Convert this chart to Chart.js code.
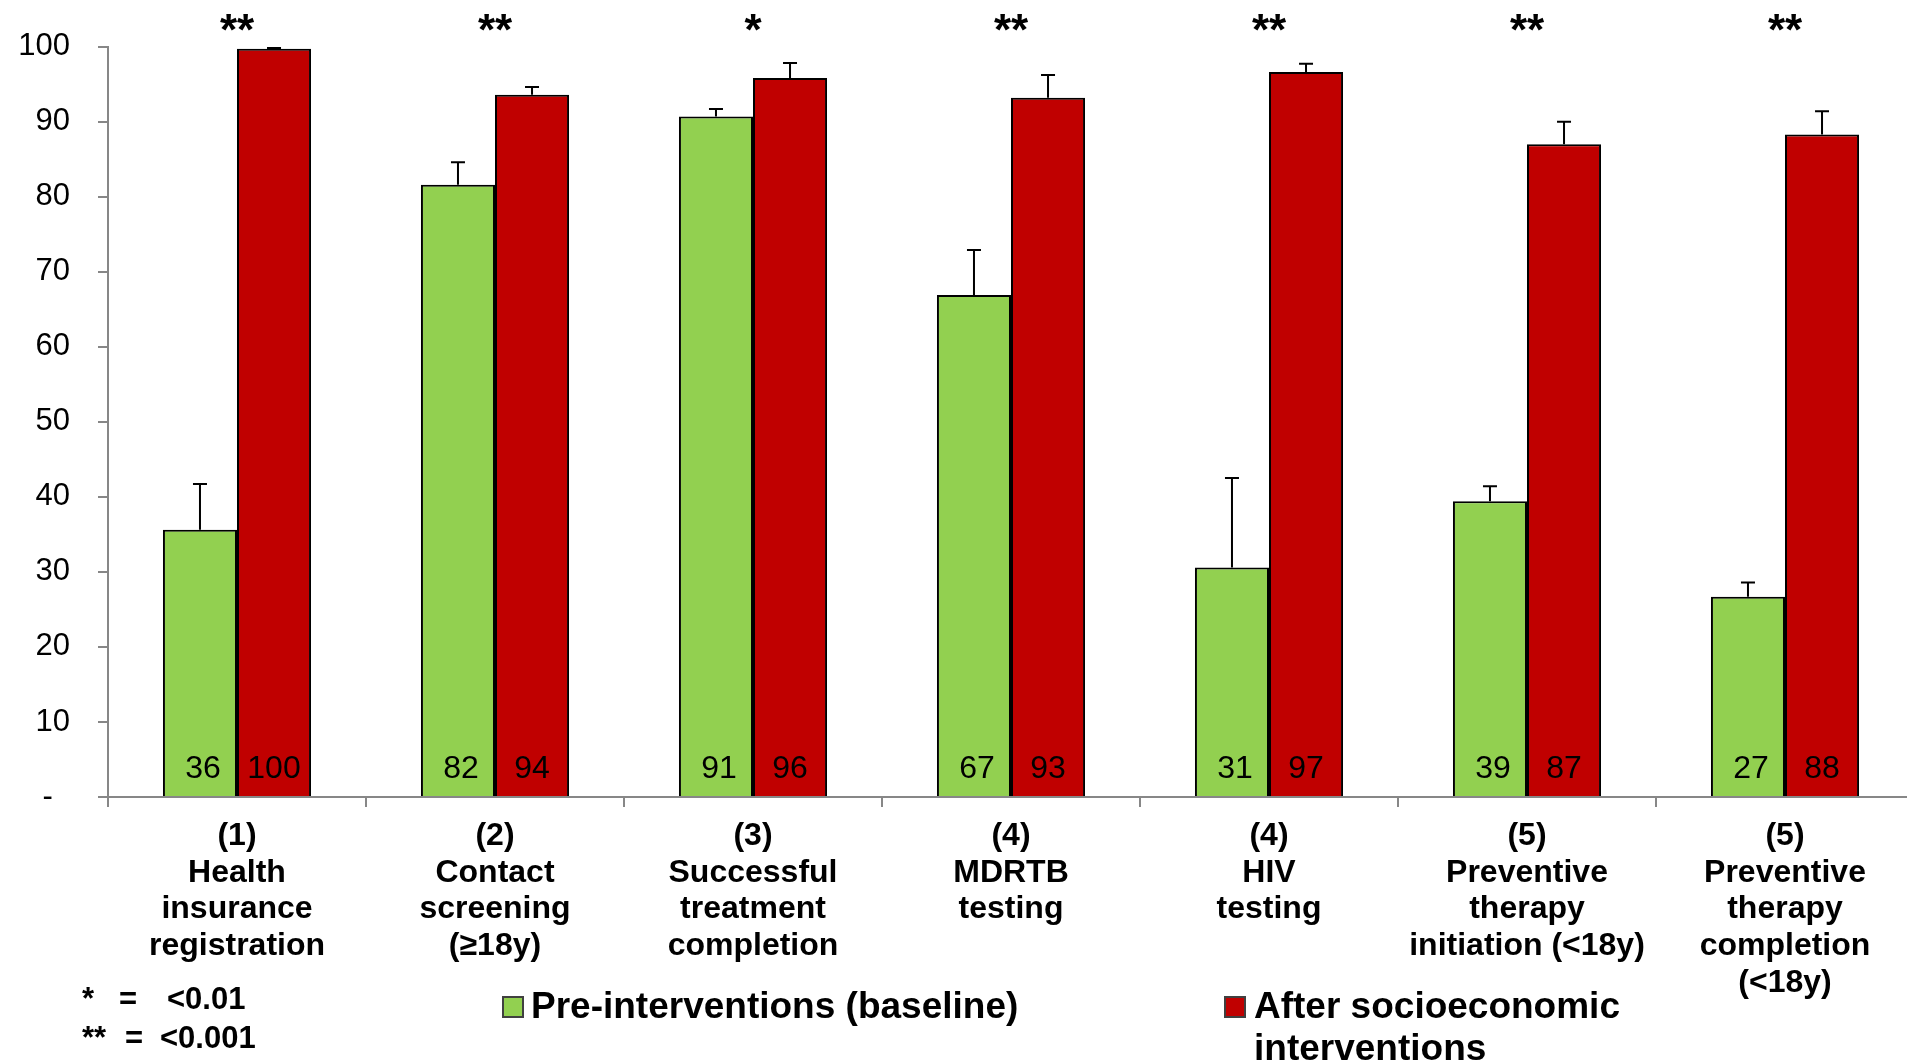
<!DOCTYPE html>
<html>
<head>
<meta charset="utf-8">
<script src="https://cdn.jsdelivr.net/npm/chart.js@4.4.1/dist/chart.umd.min.js"></script>
<style>
  html, body { margin: 0; padding: 0; background: #fff; overflow: hidden; }
  #wrap { width: 1907px; height: 1063px; position: relative; overflow: hidden; }
  #c { position: absolute; left: 0; top: 0; }
</style>
</head>
<body>
<div id="wrap"><canvas id="c" width="1914" height="1063"></canvas></div>
<script>
const categories = [
  ['(1)', 'Health', 'insurance', 'registration'],
  ['(2)', 'Contact', 'screening', '(≥18y)'],
  ['(3)', 'Successful', 'treatment', 'completion'],
  ['(4)', 'MDRTB', 'testing'],
  ['(4)', 'HIV', 'testing'],
  ['(5)', 'Preventive', 'therapy', 'initiation (<18y)'],
  ['(5)', 'Preventive', 'therapy', 'completion', '(<18y)']
];
const seriesNames = ['Pre-interventions (baseline)', ['After socioeconomic', 'interventions']];
const preValues = [35.6, 81.6, 90.7, 66.9, 30.6, 39.4, 26.7];
const preErrors = [6.1, 3.0, 1.0, 6.0, 11.9, 2.0, 1.9];
const postValues = [99.7, 93.6, 95.8, 93.2, 96.6, 87.0, 88.3];
const postErrors = [0.1, 1.0, 2.0, 3.0, 1.1, 3.0, 3.1];
const preLabels = ['36', '82', '91', '67', '31', '39', '27'];
const postLabels = ['100', '94', '96', '93', '97', '87', '88'];
const significance = ['**', '**', '*', '**', '**', '**', '**'];
const footnotes = [['*', '=', '<0.01'], ['**', '=', '<0.001']];

const FONT = "'Liberation Sans', Arial, Helvetica, sans-serif";
const GREEN = '#92D050';
const RED = '#C00000';
const AXIS = '#878787';

const errorBars = [preErrors, postErrors];
const valueLabels = [preLabels, postLabels];

const overlayPlugin = {
  id: 'overlay',
  afterDatasetsDraw(chart) {
    const ctx = chart.ctx;
    const y = chart.scales.y;
    ctx.save();
    chart.data.datasets.forEach((ds, di) => {
      const meta = chart.getDatasetMeta(di);
      meta.data.forEach((el, i) => {
        const top = y.getPixelForValue(ds.data[i] + errorBars[di][i]);
        const base = y.getPixelForValue(ds.data[i]);
        ctx.strokeStyle = '#000';
        ctx.lineWidth = 2;
        ctx.beginPath();
        ctx.moveTo(el.x, base);
        ctx.lineTo(el.x, top);
        ctx.moveTo(el.x - 7, top);
        ctx.lineTo(el.x + 7, top);
        ctx.stroke();
      });
    });
    ctx.fillStyle = '#000';
    ctx.font = '32px ' + FONT;
    ctx.textAlign = 'center';
    ctx.textBaseline = 'alphabetic';
    const base0 = y.getPixelForValue(0);
    chart.data.datasets.forEach((ds, di) => {
      const meta = chart.getDatasetMeta(di);
      meta.data.forEach((el, i) => {
        ctx.fillText(valueLabels[di][i], el.x + (di === 0 ? 3 : 0), base0 - 19);
      });
    });
    ctx.restore();
  },
  afterDraw(chart) {
    const ctx = chart.ctx;
    const x = chart.scales.x;
    ctx.save();
    ctx.fillStyle = '#000';
    ctx.font = 'bold 44px ' + FONT;
    ctx.textAlign = 'center';
    ctx.textBaseline = 'alphabetic';
    significance.forEach((s, i) => {
      ctx.fillText(s, x.getPixelForValue(i), 45);
    });
    ctx.font = 'bold 31px ' + FONT;
    ctx.textAlign = 'left';
    ctx.textBaseline = 'middle';
    const fx = [[82, 119, 167], [82, 125, 160]];
    const fy = [1000, 1039];
    footnotes.forEach((row, r) => {
      row.forEach((t, k) => ctx.fillText(t, fx[r][k], fy[r]));
    });
    const colors = [GREEN, RED];
    const sq = [[503, 997], [1225, 997]];
    const tx = [531, 1254];
    ctx.font = 'bold 37px ' + FONT;
    ctx.textBaseline = 'alphabetic';
    seriesNames.forEach((name, i) => {
      ctx.fillStyle = colors[i];
      ctx.fillRect(sq[i][0], sq[i][1], 20, 20);
      ctx.strokeStyle = '#404040';
      ctx.lineWidth = 2;
      ctx.strokeRect(sq[i][0], sq[i][1], 20, 20);
      ctx.fillStyle = '#000';
      const lines = Array.isArray(name) ? name : [name];
      lines.forEach((ln, k) => ctx.fillText(ln, tx[i], 1018 + k * 42));
    });
    ctx.restore();
  }
};

new Chart(document.getElementById('c'), {
  type: 'bar',
  data: {
    labels: categories,
    datasets: [
      {
        label: 'Pre-interventions (baseline)',
        data: preValues,
        backgroundColor: GREEN,
        borderColor: '#000',
        borderWidth: 2,
        barPercentage: 1,
        categoryPercentage: 0.574
      },
      {
        label: 'After socioeconomic interventions',
        data: postValues,
        backgroundColor: RED,
        borderColor: '#000',
        borderWidth: 2,
        barPercentage: 1,
        categoryPercentage: 0.574
      }
    ]
  },
  options: {
    responsive: false,
    animation: false,
    devicePixelRatio: 1,
    layout: { padding: { top: 43, left: 0, right: 0, bottom: 0 } },
    plugins: { legend: { display: false }, tooltip: { enabled: false } },
    scales: {
      x: {
        grid: { offset: true, drawOnChartArea: false, drawTicks: true, tickLength: 10, color: AXIS, lineWidth: 2 },
        border: { color: AXIS, width: 2 },
        ticks: {
          color: '#000',
          font: { family: FONT, size: 32, weight: 'bold', lineHeight: 1.145 },
          padding: 11,
          maxRotation: 0,
          minRotation: 0,
          autoSkip: false
        },
        afterFit(s) { s.height = 266; }
      },
      y: {
        min: 0,
        max: 100,
        grid: { drawOnChartArea: false, drawTicks: true, tickLength: 10, color: AXIS, lineWidth: 2 },
        border: { color: AXIS, width: 2 },
        ticks: {
          stepSize: 10,
          color: '#000',
          font: { family: FONT, size: 31 },
          padding: 28,
          callback: v => (v === 0 ? '-  ' : String(v))
        },
        afterFit(s) { s.width = 108; }
      }
    }
  },
  plugins: [overlayPlugin]
});
</script>
</body>
</html>
